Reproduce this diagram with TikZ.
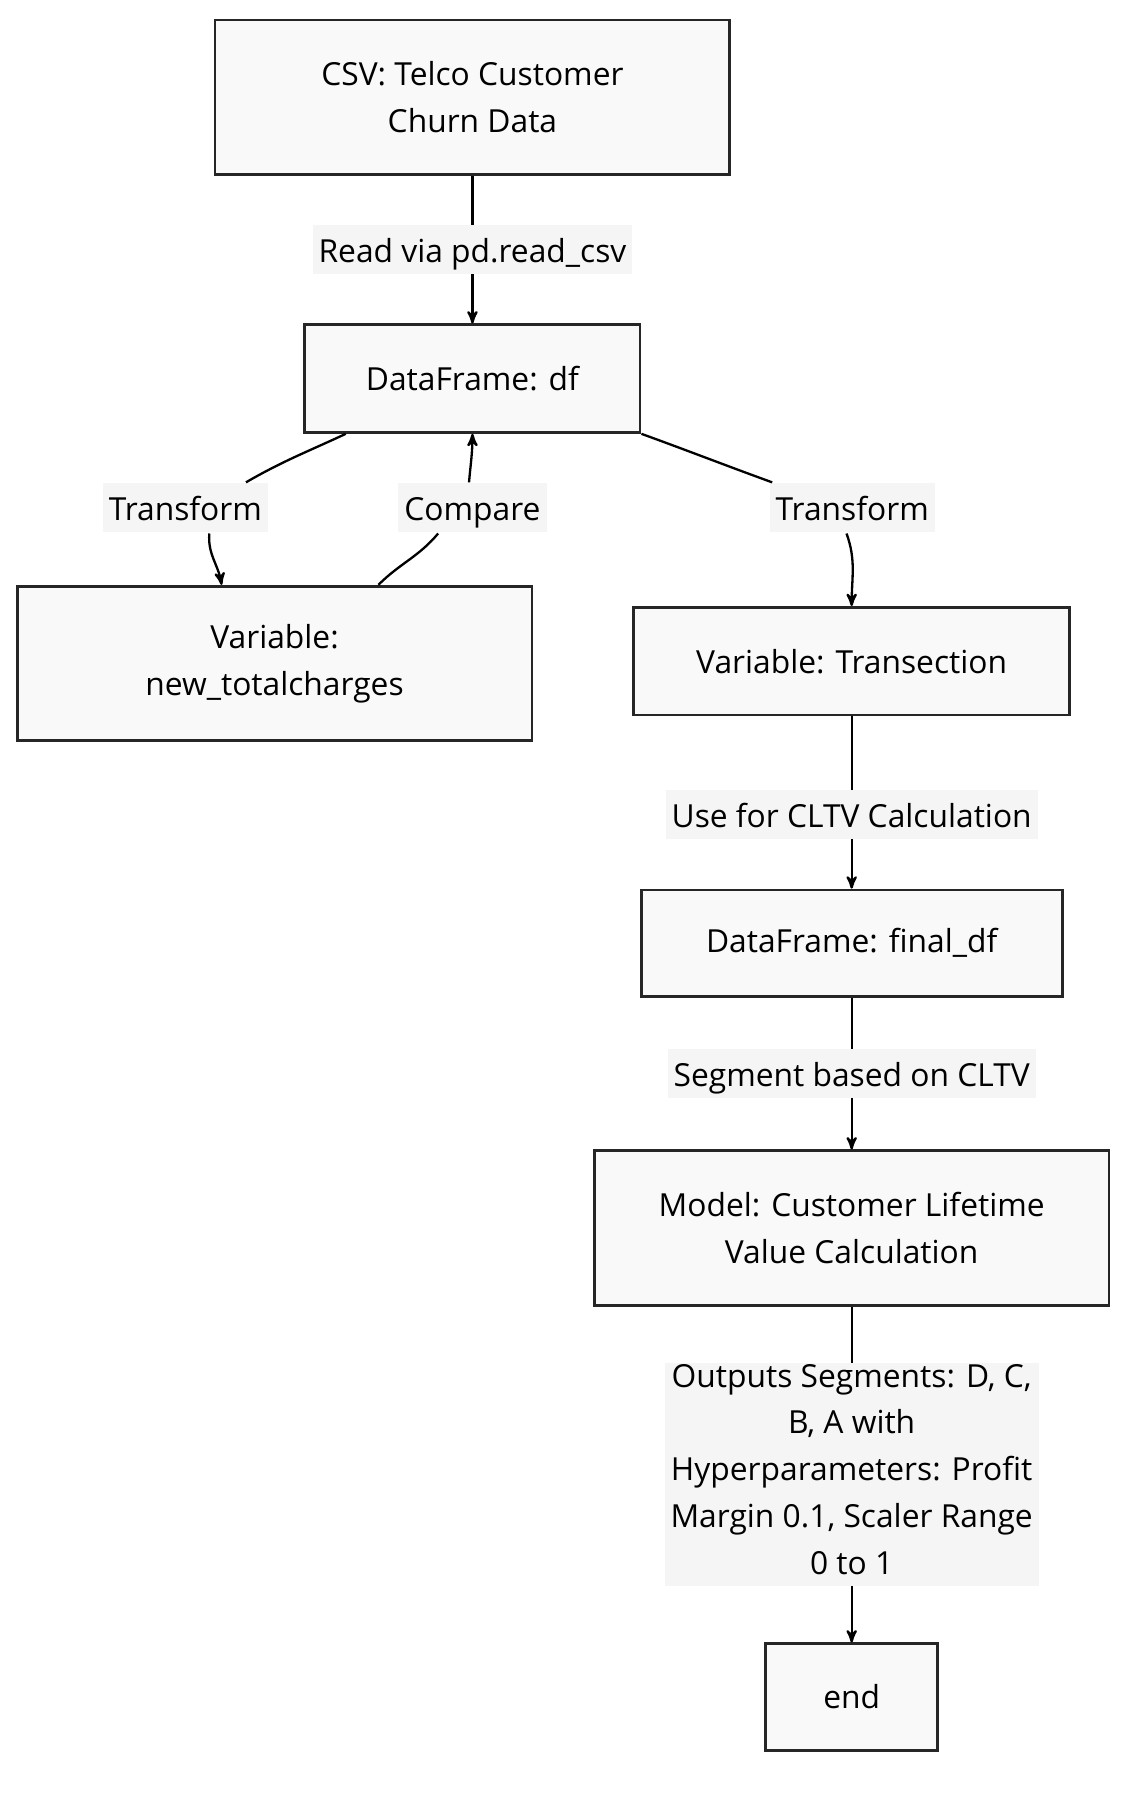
\documentclass[tikz,border=0pt]{standalone}
\usepackage{fontspec}
\setmainfont{Open Sans}
\usetikzlibrary{%
  arrows,%
  positioning%
}
\newcommand{\lblstrut}{\rule[-5.3pt]{0pt}{23.3pt}}

\begin{document}
\begin{tikzpicture}
[draw=black, line width=1.15pt, >=stealth',
box/.style={rectangle, draw=black!85, line width=1.4pt, fill=gray!5, align=center, inner sep=0pt, minimum width=9cm, minimum height=2.7cm, font=\fontsize{15.8}{23.3}\selectfont},
lbl/.style={rectangle, fill=gray!8, align=center, inner xsep=3pt, inner ysep=0.5pt, font=\fontsize{15.8}{23.3}\selectfont, execute at begin node=\lblstrut, execute at end node=\lblstrut}]

\useasboundingbox (0,0) rectangle (20,-31.4);

\node[box] (csv) at (8.26,-1.7) {CSV: Telco Customer\\Churn Data};
\node[box, minimum width=5.86cm, minimum height=1.88cm] (df) at (8.26,-6.62) {DataFrame: df}
  edge [<-] node[lbl] {Read via pd.read\_csv} (csv);
\node[box] (newtc) at (4.8,-11.6) {Variable:\\new\_totalcharges};
\node[box, minimum width=7.62cm, minimum height=1.88cm] (transection) at (14.89,-11.56) {Variable: Transection};
\node[box, minimum width=7.36cm, minimum height=1.86cm] (finaldf) at (14.89,-16.49) {DataFrame: final\_df}
  edge [<-] node[lbl, pos=0.43] {Use for CLTV Calculation} (transection);
\node[box] (model) at (14.89,-21.47) {Model: Customer Lifetime\\Value Calculation}
  edge [<-] node[lbl] {Segment based on CLTV} (finaldf);
\node[box, minimum width=3cm, minimum height=1.86cm] (finish) at (14.89,-29.67) {end}
  edge [<-] node[lbl] {Outputs Segments: D, C,\\B, A with\\Hyperparameters: Profit\\Margin 0.1, Scaler Range\\0 to 1} (model);

% labels of the curved links
\node[lbl] (trans1) at (3.24,-8.88) {Transform};
\node[lbl] (compare) at (8.26,-8.88) {Compare};
\node[lbl] (trans2) at (14.9,-8.88) {Transform};

\draw ([xshift=0.74cm]df.south west) to[out=-155,in=30] ([xshift=1.06cm]trans1.north);
\draw[->] ([xshift=0.42cm]trans1.south) to[out=-95,in=100] ([xshift=3.6cm]newtc.north west);
\draw ([xshift=6.34cm]newtc.north west) to[out=45,in=-130] ([xshift=-0.6cm]compare.south);
\draw[->] ([xshift=-0.06cm]compare.north) to[out=85,in=-90] (df.south);
\draw (df.south east) to[out=-20,in=160] ([xshift=-1.4cm]trans2.north);
\draw[->] ([xshift=-0.1cm]trans2.south) to[out=-70,in=90] (transection.north);
\end{tikzpicture}
\end{document}
